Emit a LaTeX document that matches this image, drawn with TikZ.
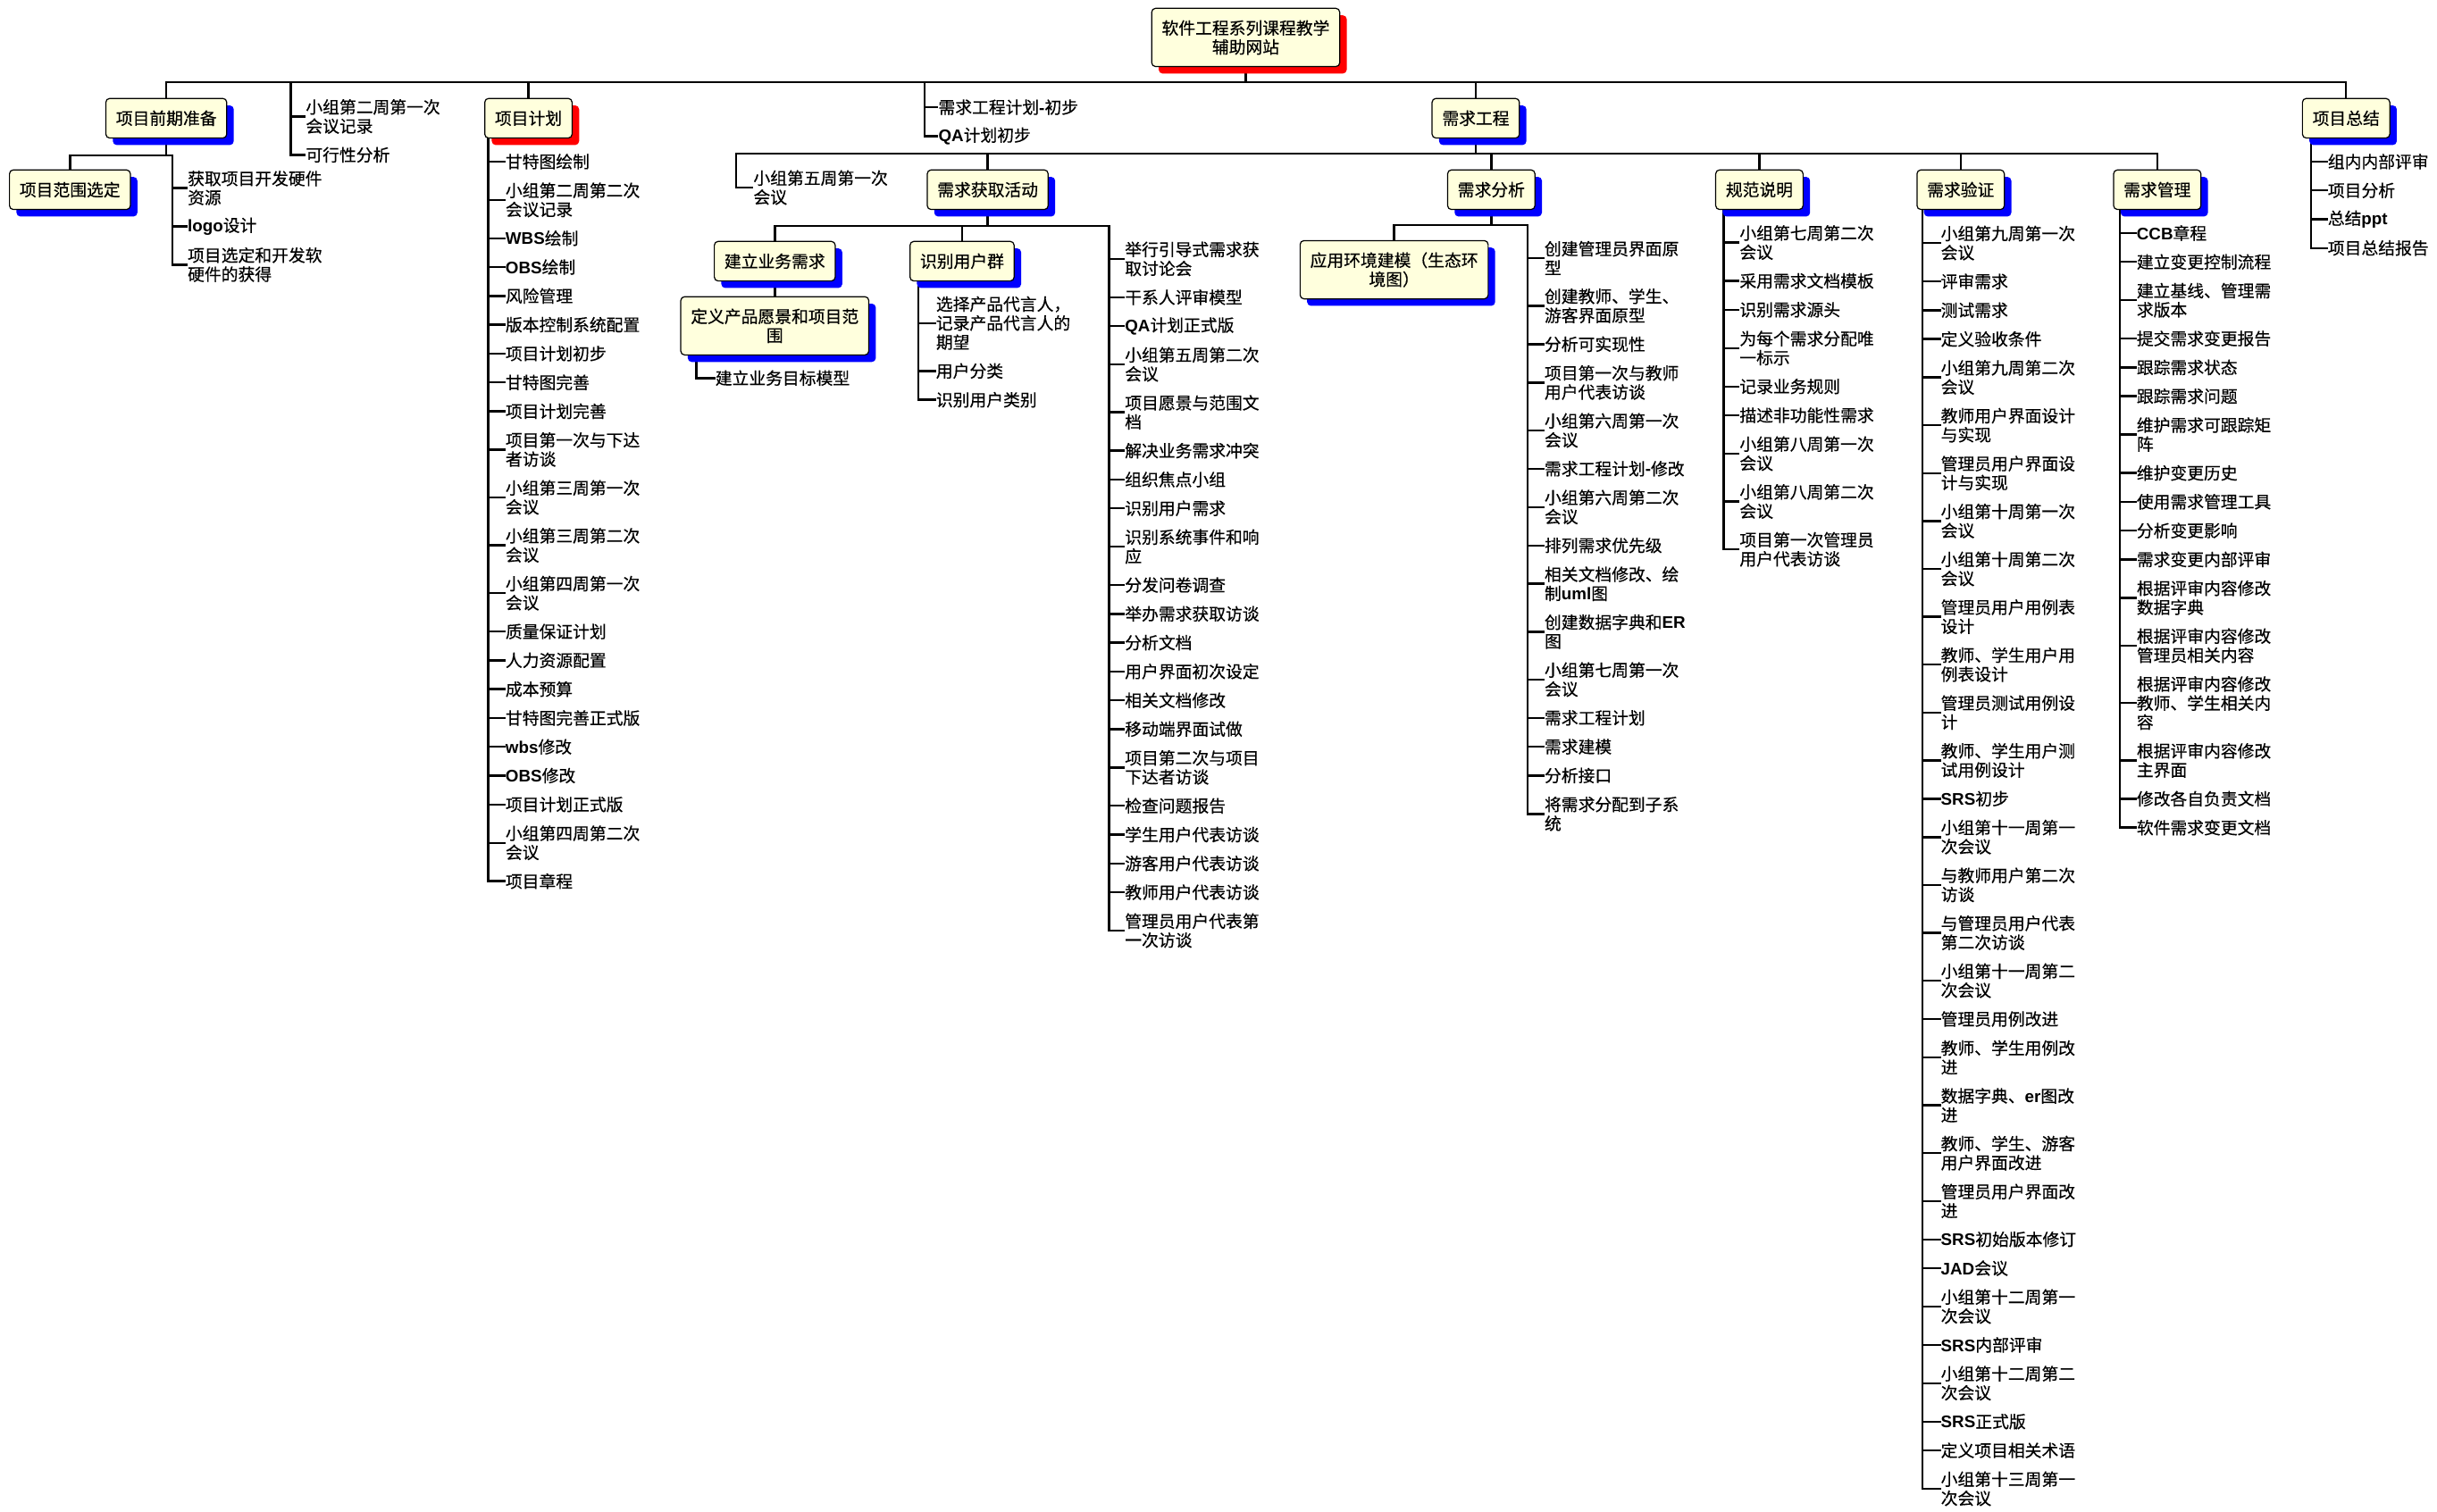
\documentclass[tikz,border=0pt]{standalone}
\usepackage{fontspec}
\setmainfont{Noto Sans CJK SC}[FakeBold=0.4]
\newfontfamily\enfont{Liberation Sans}
\usetikzlibrary{shadows}
\definecolor{boxfill}{RGB}{255,255,221}
\definecolor{shblue}{RGB}{0,0,255}
\definecolor{shred}{RGB}{255,0,0}
\pgfdeclarelayer{background}
\pgfsetlayers{background,main}
\newcommand\en[1]{{\enfont\bfseries #1}}
\newcommand\tfont{\fontsize{10.8pt}{12.26pt}\selectfont}
% column of leaf texts: prefix, text x, centre of a one-line first item
\newcommand\startcol[3]{\xdef\colp{#1}\xdef\colx{#2}%
  \pgfmathsetmacro\tmpy{#3-18.55}\xdef\coly{\tmpy}\xdef\coln{1}\xdef\colk{0}}
% one leaf: number of lines, text
\newcommand\leafitem[2]{%
  \pgfmathsetmacro\tmpy{\coly+18.55+6.13*(\coln+#1-2)}%
  \xdef\coly{\tmpy}\xdef\coln{#1}%
  \pgfmathtruncatemacro\tmpk{\colk+1}\xdef\colk{\tmpk}%
  \node[leaf] (\colp\colk) at (\colx,\coly) {#2};}
% trunk from a start point down to the last leaf, plus one tick per leaf
\newcommand\hangleaves[2]{%
  \begin{pgfonlayer}{background}
  \draw[conn] (#1 -| #2) |- (\colp\colk.west);
  \foreach \i in {1,...,\colk} {\draw[conn] (\colp\i.west -| #2) -- (\colp\i.west);}
  \end{pgfonlayer}}
\begin{document}
\begin{tikzpicture}[x=1pt,y=-1pt,
  box/.style={draw=black, line width=0.7pt, rounded corners=2.5pt, fill=boxfill,
    inner xsep=6.5pt, inner ysep=6pt, minimum height=25.5pt, align=center,
    anchor=north, font=\tfont},
  two/.style={minimum height=37.5pt},
  bsh/.style={drop shadow={shadow xshift=4.5pt, shadow yshift=-4.5pt, fill=shblue, draw=none, opacity=1}},
  rsh/.style={drop shadow={shadow xshift=4.5pt, shadow yshift=-4.5pt, fill=shred, draw=none, opacity=1}},
  leaf/.style={anchor=west, inner xsep=0.6pt, inner ysep=0pt, align=left, font=\tfont},
  conn/.style={line width=1.4pt, line cap=rect}]
\begin{pgfonlayer}{background}
\fill[white] (0,0) rectangle (1568,973);
\end{pgfonlayer}
\useasboundingbox (0,0) rectangle (1568,973);

% levels of horizontal bars
\coordinate (bar1) at (0,53);
\coordinate (barA) at (0,100);
\coordinate (bar2) at (0,99);
\coordinate (bar3) at (0,145.5);
\coordinate (bar4) at (0,145);
% trunk lines of the leaf columns
\coordinate (tA) at (111,0);
\coordinate (tB) at (187,0);
\coordinate (tC) at (314,0);
\coordinate (tD) at (595,0);
\coordinate (tE) at (473.5,0);
\coordinate (tF) at (713.6,0);
\coordinate (tG) at (591,0);
\coordinate (tH) at (448,0);
\coordinate (tI) at (983,0);
\coordinate (tJ) at (1109,0);
\coordinate (tK) at (1237,0);
\coordinate (tL) at (1364,0);
\coordinate (tM) at (1487,0);

% boxes
\node[box,two,rsh] (root) at (801.5,5) {软件工程系列课程教学\\辅助网站};
\node[box,bsh] (pp) at (107,63) {项目前期准备};
\node[box,bsh] (pr) at (45,109) {项目范围选定};
\node[box,rsh] (pc) at (340,63) {项目计划};
\node[box,bsh] (pe) at (949.5,63) {需求工程};
\node[box,bsh] (pz) at (1509.5,63) {项目总结};
\node[box,bsh] (ra) at (635.5,109) {需求获取活动};
\node[box,bsh] (rb) at (959.5,109) {需求分析};
\node[box,bsh] (rc) at (1132,109) {规范说明};
\node[box,bsh] (rd) at (1261.5,109) {需求验证};
\node[box,bsh] (rm) at (1388,109) {需求管理};
\node[box,bsh] (ra1) at (498.5,155) {建立业务需求};
\node[box,bsh] (ra2) at (619,155) {识别用户群};
\node[box,two,bsh] (ra3) at (498.5,190.6) {定义产品愿景和项目范\\围};
\node[box,two,bsh] (rb1) at (897,154.5) {应用环境建模（生态环\\境图）};

% bars and vertical links between boxes
\begin{pgfonlayer}{background}
\draw[conn] (root.south) -- (root.south |- bar1);
\draw[conn] (pp.north |- bar1) -- (pz.north |- bar1);
\foreach \b in {pp,pc,pe,pz} {\draw[conn] (\b.north) -- (\b.north |- bar1);}
\draw[conn] (pp.south) -- (pp.south |- barA);
\draw[conn] (pr.north |- barA) -- (tA |- barA);
\draw[conn] (pr.north) -- (pr.north |- barA);
\draw[conn] (pe.south) -- (pe.south |- bar2);
\draw[conn] (tE |- bar2) -- (rm.north |- bar2);
\foreach \b in {ra,rb,rc,rd,rm} {\draw[conn] (\b.north) -- (\b.north |- bar2);}
\draw[conn] (ra.south) -- (ra.south |- bar3);
\draw[conn] (ra1.north |- bar3) -- (tF |- bar3);
\foreach \b in {ra1,ra2} {\draw[conn] (\b.north) -- (\b.north |- bar3);}
\draw[conn] (ra1.south) -- (ra3.north);
\draw[conn] (rb.south) -- (rb.south |- bar4);
\draw[conn] (rb1.north |- bar4) -- (tI |- bar4);
\draw[conn] (rb1.north) -- (rb1.north |- bar4);
\end{pgfonlayer}

% 项目前期准备
\startcol{la}{120}{114.87}
\leafitem{2}{获取项目开发硬件\\资源}
\leafitem{1}{\en{logo}设计}
\leafitem{2}{项目选定和开发软\\硬件的获得}
\hangleaves{barA}{tA}

\startcol{lb}{196}{68.87}
\leafitem{2}{小组第二周第一次\\会议记录}
\leafitem{1}{可行性分析}
\hangleaves{bar1}{tB}

% 项目计划
\startcol{lc}{324.5}{104}
\leafitem{1}{甘特图绘制}
\leafitem{2}{小组第二周第二次\\会议记录}
\leafitem{1}{\en{WBS}绘制}
\leafitem{1}{\en{OBS}绘制}
\leafitem{1}{风险管理}
\leafitem{1}{版本控制系统配置}
\leafitem{1}{项目计划初步}
\leafitem{1}{甘特图完善}
\leafitem{1}{项目计划完善}
\leafitem{2}{项目第一次与下达\\者访谈}
\leafitem{2}{小组第三周第一次\\会议}
\leafitem{2}{小组第三周第二次\\会议}
\leafitem{2}{小组第四周第一次\\会议}
\leafitem{1}{质量保证计划}
\leafitem{1}{人力资源配置}
\leafitem{1}{成本预算}
\leafitem{1}{甘特图完善正式版}
\leafitem{1}{\en{wbs}修改}
\leafitem{1}{\en{OBS}修改}
\leafitem{1}{项目计划正式版}
\leafitem{2}{小组第四周第二次\\会议}
\leafitem{1}{项目章程}
\hangleaves{pc.south}{tC}

\startcol{ld}{603}{69}
\leafitem{1}{需求工程计划\en{-}初步}
\leafitem{1}{\en{QA}计划初步}
\hangleaves{bar1}{tD}

\startcol{le}{484}{114.6}
\leafitem{2}{小组第五周第一次\\会议}
\hangleaves{bar2}{tE}

% 需求获取活动
\startcol{lf}{723}{160.5}
\leafitem{2}{举行引导式需求获\\取讨论会}
\leafitem{1}{干系人评审模型}
\leafitem{1}{\en{QA}计划正式版}
\leafitem{2}{小组第五周第二次\\会议}
\leafitem{2}{项目愿景与范围文\\档}
\leafitem{1}{解决业务需求冲突}
\leafitem{1}{组织焦点小组}
\leafitem{1}{识别用户需求}
\leafitem{2}{识别系统事件和响\\应}
\leafitem{1}{分发问卷调查}
\leafitem{1}{举办需求获取访谈}
\leafitem{1}{分析文档}
\leafitem{1}{用户界面初次设定}
\leafitem{1}{相关文档修改}
\leafitem{1}{移动端界面试做}
\leafitem{2}{项目第二次与项目\\下达者访谈}
\leafitem{1}{检查问题报告}
\leafitem{1}{学生用户代表访谈}
\leafitem{1}{游客用户代表访谈}
\leafitem{1}{教师用户代表访谈}
\leafitem{2}{管理员用户代表第\\一次访谈}
\hangleaves{bar3}{tF}

\startcol{lg}{601.5}{195.7}
\leafitem{3}{选择产品代言人，\\记录产品代言人的\\期望}
\leafitem{1}{用户分类}
\leafitem{1}{识别用户类别}
\hangleaves{ra2.south}{tG}

\startcol{lh}{459.5}{243.3}
\leafitem{1}{建立业务目标模型}
\hangleaves{ra3.south}{tH}

% 需求分析
\startcol{li}{993}{159.9}
\leafitem{2}{创建管理员界面原\\型}
\leafitem{2}{创建教师、学生、\\游客界面原型}
\leafitem{1}{分析可实现性}
\leafitem{2}{项目第一次与教师\\用户代表访谈}
\leafitem{2}{小组第六周第一次\\会议}
\leafitem{1}{需求工程计划\en{-}修改}
\leafitem{2}{小组第六周第二次\\会议}
\leafitem{1}{排列需求优先级}
\leafitem{2}{相关文档修改、绘\\制\en{uml}图}
\leafitem{2}{创建数据字典和\en{ER}\\图}
\leafitem{2}{小组第七周第一次\\会议}
\leafitem{1}{需求工程计划}
\leafitem{1}{需求建模}
\leafitem{1}{分析接口}
\leafitem{2}{将需求分配到子系\\统}
\hangleaves{bar4}{tI}

% 规范说明
\startcol{lj}{1118.5}{150}
\leafitem{2}{小组第七周第二次\\会议}
\leafitem{1}{采用需求文档模板}
\leafitem{1}{识别需求源头}
\leafitem{2}{为每个需求分配唯\\一标示}
\leafitem{1}{记录业务规则}
\leafitem{1}{描述非功能性需求}
\leafitem{2}{小组第八周第一次\\会议}
\leafitem{2}{小组第八周第二次\\会议}
\leafitem{2}{项目第一次管理员\\用户代表访谈}
\hangleaves{rc.south}{tJ}

% 需求验证
\startcol{lk}{1248}{150.3}
\leafitem{2}{小组第九周第一次\\会议}
\leafitem{1}{评审需求}
\leafitem{1}{测试需求}
\leafitem{1}{定义验收条件}
\leafitem{2}{小组第九周第二次\\会议}
\leafitem{2}{教师用户界面设计\\与实现}
\leafitem{2}{管理员用户界面设\\计与实现}
\leafitem{2}{小组第十周第一次\\会议}
\leafitem{2}{小组第十周第二次\\会议}
\leafitem{2}{管理员用户用例表\\设计}
\leafitem{2}{教师、学生用户用\\例表设计}
\leafitem{2}{管理员测试用例设\\计}
\leafitem{2}{教师、学生用户测\\试用例设计}
\leafitem{1}{\en{SRS}初步}
\leafitem{2}{小组第十一周第一\\次会议}
\leafitem{2}{与教师用户第二次\\访谈}
\leafitem{2}{与管理员用户代表\\第二次访谈}
\leafitem{2}{小组第十一周第二\\次会议}
\leafitem{1}{管理员用例改进}
\leafitem{2}{教师、学生用例改\\进}
\leafitem{2}{数据字典、\en{er}图改\\进}
\leafitem{2}{教师、学生、游客\\用户界面改进}
\leafitem{2}{管理员用户界面改\\进}
\leafitem{1}{\en{SRS}初始版本修订}
\leafitem{1}{\en{JAD}会议}
\leafitem{2}{小组第十二周第一\\次会议}
\leafitem{1}{\en{SRS}内部评审}
\leafitem{2}{小组第十二周第二\\次会议}
\leafitem{1}{\en{SRS}正式版}
\leafitem{1}{定义项目相关术语}
\leafitem{2}{小组第十三周第一\\次会议}
\hangleaves{rd.south}{tK}

% 需求管理
\startcol{ll}{1374}{150}
\leafitem{1}{\en{CCB}章程}
\leafitem{1}{建立变更控制流程}
\leafitem{2}{建立基线、管理需\\求版本}
\leafitem{1}{提交需求变更报告}
\leafitem{1}{跟踪需求状态}
\leafitem{1}{跟踪需求问题}
\leafitem{2}{维护需求可跟踪矩\\阵}
\leafitem{1}{维护变更历史}
\leafitem{1}{使用需求管理工具}
\leafitem{1}{分析变更影响}
\leafitem{1}{需求变更内部评审}
\leafitem{2}{根据评审内容修改\\数据字典}
\leafitem{2}{根据评审内容修改\\管理员相关内容}
\leafitem{3}{根据评审内容修改\\教师、学生相关内\\容}
\leafitem{2}{根据评审内容修改\\主界面}
\leafitem{1}{修改各自负责文档}
\leafitem{1}{软件需求变更文档}
\hangleaves{rm.south}{tL}

% 项目总结
\startcol{lm}{1497}{104}
\leafitem{1}{组内内部评审}
\leafitem{1}{项目分析}
\leafitem{1}{总结\en{ppt}}
\leafitem{1}{项目总结报告}
\hangleaves{pz.south}{tM}
\end{tikzpicture}
\end{document}
